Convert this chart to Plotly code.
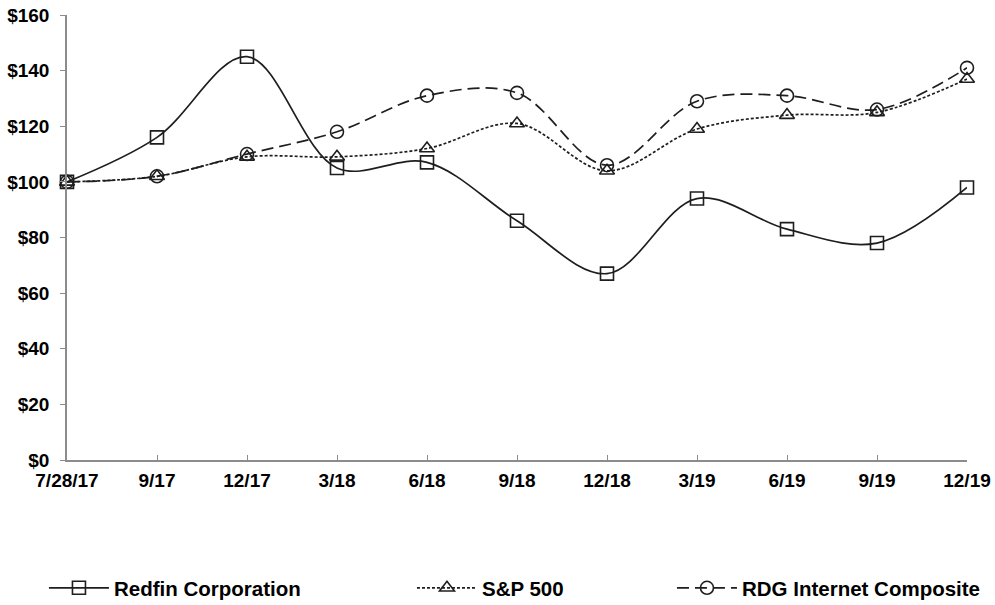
import plotly.graph_objects as go

dates = ["7/28/17", "9/17", "12/17", "3/18", "6/18", "9/18", "12/18", "3/19", "6/19", "9/19", "12/19"]
redfin = [100, 116, 145, 105, 107, 86, 67, 94, 83, 78, 98]
sp500 = [100, 102, 109, 109, 112, 121, 104, 119, 124, 125, 137]
rdg = [100, 102, 110, 118, 131, 132, 106, 129, 131, 126, 141]

FAM = "Liberation Sans, Arial, sans-serif"
tickfont = dict(family=FAM, size=19, color="black", weight="bold")

fig = go.Figure()
series = [
    ("Redfin Corporation", redfin, "solid", "square-open", "legend"),
    ("S&P 500", sp500, "3px,2px", "triangle-up-open", "legend2"),
    ("RDG Internet Composite", rdg, "12px,6px", "circle-open", "legend3"),
]
for name, vals, dash, sym, lg in series:
    fig.add_trace(go.Scatter(
        x=dates, y=vals, name=name, mode="lines+markers",
        line=dict(color="#1e1e1e", width=1.7, dash=dash, shape="spline", smoothing=1.0),
        marker=dict(symbol=sym, size=13, color="#1e1e1e", line=dict(width=1.6, color="#1e1e1e")),
        cliponaxis=False, legend=lg,
    ))

leg_common = dict(orientation="h", font=dict(family=FAM, size=20.5, color="black", weight="bold"),
                  bgcolor="rgba(0,0,0,0)", xref="paper", yref="container", yanchor="middle",
                  xanchor="left", itemwidth=60)

fig.update_layout(
    width=995, height=605,
    margin=dict(l=67, r=28, t=15, b=145),
    plot_bgcolor="white", paper_bgcolor="white",
    font=dict(family=FAM, size=19, color="black"),
    showlegend=True,
    legend=dict(**leg_common, x=-0.0256, y=0.0281),
    legend2=dict(**leg_common, x=0.3833, y=0.0281),
    legend3=dict(**leg_common, x=0.6722, y=0.0281),
    xaxis=dict(
        type="category", range=[0, 10], showgrid=False, zeroline=False, automargin=False,
        showline=True, linecolor="#8c8c8c", linewidth=1.5,
        ticks="inside", ticklen=5, tickcolor="#8c8c8c", ticklabelstandoff=2,
        ticklabeloverflow="allow", tickfont=tickfont,
    ),
    yaxis=dict(
        range=[0, 160], dtick=20, tickprefix="$", showgrid=False, zeroline=False, automargin=False,
        showline=True, linecolor="#8c8c8c", linewidth=1.5,
        ticks="outside", ticklen=5, tickcolor="#8c8c8c", ticklabelstandoff=7,
        ticklabeloverflow="allow", tickfont=tickfont,
    ),
)

fig.write_html("out.html", config={"displayModeBar": False},
               post_script="document.body.style.margin='0px';")
